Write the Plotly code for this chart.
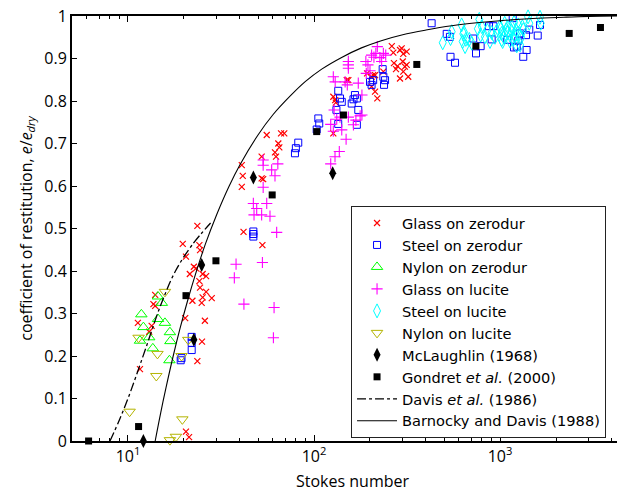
import plotly.graph_objects as go

# ---------------- data ----------------
glass_zerodur_st = [23.6, 19.7, 24.2, 20.5, 24.4, 22.6, 23.2, 21.5, 25.2, 26.3, 24.2, 24.4, 26.3, 25.2, 28.2,
                    24.9, 22.2, 14.0, 13.7, 14.0, 20.3, 25.9, 11.3, 13.4, 13.0, 25.0, 23.6, 11.6, 20.5, 21.3,
                    55.7, 66.5, 69.2, 64.3, 65.1, 61.7, 62.5, 52.3, 40.9, 41.4, 40.9, 52.3, 53.3, 41.8, 52.8,
                    127, 130, 127, 153, 193, 204, 219, 213, 262, 267, 290, 296, 302, 315, 269, 281, 300, 308,
                    276, 302, 315, 290, 321, 236, 208, 150, 131, 204, 213]
glass_zerodur_e = [0.506, 0.464, 0.461, 0.434, 0.449, 0.41, 0.406, 0.393, 0.393, 0.388, 0.376, 0.361, 0.351, 0.338, 0.336,
                   0.325, 0.33, 0.344, 0.322, 0.318, 0.289, 0.283, 0.278, 0.271, 0.257, 0.234, 0.188, 0.169, 0.022, 0.009,
                   0.72, 0.724, 0.724, 0.70, 0.691, 0.679, 0.669, 0.669, 0.649, 0.624, 0.598, 0.618, 0.616, 0.492, 0.461,
                   0.81, 0.802, 0.724, 0.849, 0.865, 0.857, 0.806, 0.861, 0.929, 0.914, 0.92, 0.924, 0.911, 0.916, 0.889, 0.882, 0.893, 0.881,
                   0.875, 0.869, 0.885, 0.853, 0.857, 0.869, 0.861, 0.849, 0.796, 0.834, 0.822]

steel_zerodur_st = [22.0, 22.0, 22.0, 19.2, 19.4, 47.2, 47.2, 47.2, 79.0, 79.9, 82.3, 103.4, 105.5, 106.7,
                    135, 138, 141, 132, 159.5, 163, 166, 170, 173, 135, 170, 200, 204, 208, 234, 236, 241, 238,
                    429, 517, 538, 542, 573, 718, 787, 743, 873, 921, 902, 1094, 1170, 1230, 1189, 1254, 1282,
                    1380, 1390, 1334, 1437, 1595, 1641]
steel_zerodur_e = [0.245, 0.231, 0.214, 0.19, 0.195, 0.493, 0.481, 0.487, 0.677, 0.689, 0.702, 0.733, 0.759, 0.747,
                   0.824, 0.806, 0.798, 0.779, 0.794, 0.804, 0.814, 0.806, 0.779, 0.746, 0.744, 0.845, 0.838, 0.849, 0.875, 0.857, 0.849, 0.838,
                   0.983, 0.958, 0.951, 0.904, 0.89, 0.947, 0.929, 0.912, 0.976, 0.976, 0.945, 0.944, 0.995, 0.928, 0.926, 0.942, 0.959,
                   0.955, 0.92, 0.904, 0.968, 0.954, 0.979]

nylon_zerodur_st = [11.8, 12.1, 11.6, 13.0, 13.6, 14.5, 15.2, 14.5, 15.8, 16.8, 16.9, 16.7]
nylon_zerodur_e = [0.298, 0.268, 0.236, 0.244, 0.218, 0.340, 0.325, 0.287, 0.278, 0.256, 0.235, 0.190]

glass_lucite_st = [38.1, 37.3, 42.0, 61.0, 60.5, 52.8, 47.2, 49.2, 55.7, 52.3, 58.0, 47.6, 63.0, 53.3, 61.7, 59.2,
                   53.3, 53.3, 63.9, 123, 129.7, 136.8, 148.8, 123, 127, 141, 132.5, 138, 128.3, 153, 163, 177,
                   181, 173, 151, 147, 130, 127, 153, 153, 153, 190, 195, 204, 210, 215, 219, 226, 236, 243, 231,
                   191, 200, 181, 168]
glass_lucite_e = [0.416, 0.384, 0.322, 0.314, 0.243, 0.42, 0.559, 0.547, 0.559, 0.532, 0.529, 0.532, 0.491, 0.597, 0.624, 0.638,
                  0.661, 0.649, 0.652, 0.652, 0.669, 0.681, 0.71, 0.745, 0.729, 0.732, 0.757, 0.762, 0.779, 0.762, 0.744, 0.765,
                  0.814, 0.842, 0.838, 0.845, 0.845, 0.857, 0.893, 0.885, 0.877, 0.893, 0.885, 0.908, 0.903, 0.912, 0.928, 0.902, 0.912, 0.908, 0.893,
                  0.865, 0.871, 0.767, 0.755]

steel_lucite_st = [492, 550, 542, 622, 635, 630, 649, 684, 705, 774, 798, 787, 830, 855, 883, 902, 1000, 1021, 1033,
                   1060, 1082, 1132, 1156, 1180, 1220, 1254, 1282, 1334, 1415, 1437, 1641, 1655,
                   1010, 1050, 1100, 1150, 1200, 1250, 1300, 1100, 960, 1190, 1320, 940, 1021, 1132, 1230, 655, 640, 760]
steel_lucite_e = [0.937, 0.963, 0.947, 0.979, 0.958, 0.94, 0.928, 0.945, 0.936, 0.992, 0.975, 0.955, 0.951, 0.966, 0.94, 0.961, 0.975, 0.959, 0.94,
                  0.983, 0.967, 0.955, 0.975, 0.945, 0.967, 0.979, 0.932, 0.968, 0.998, 0.983, 0.997, 0.983,
                  0.97, 0.95, 0.96, 0.965, 0.955, 0.96, 0.95, 0.975, 0.965, 0.985, 0.975, 0.95, 0.944, 0.941, 0.93, 0.945, 0.962, 0.97]

nylon_lucite_st = [15.8, 11.4, 14.4, 14.2, 10.2, 19.6, 18.1, 16.8, 19.4, 21.1]
nylon_lucite_e = [0.351, 0.243, 0.205, 0.153, 0.069, 0.051, 0.010, 0.002, 0.200, 0.238]

mclaughlin_st = [12.1, 22.6, 24.9, 47.2, 126]
mclaughlin_e = [0.0, 0.238, 0.414, 0.62, 0.63]

gondret_st = [6.14, 11.4, 20.5, 29.7, 59.6, 103.4, 144, 357, 742, 2355, 3468]
gondret_e = [0.0, 0.034, 0.342, 0.424, 0.579, 0.728, 0.767, 0.886, 0.929, 0.959, 0.973]

davis_st = [8.0, 9.0, 10.0, 11.0, 12.5, 15.0, 18.0, 22.0, 27.8]
davis_e = [0.0, 0.05, 0.10, 0.15, 0.22, 0.32, 0.40, 0.46, 0.513]

barnocky_st = [14, 15, 16, 17.5, 19, 21, 23, 26, 30, 35, 40, 50, 60, 75, 90, 110, 140, 180, 230, 300, 400,
               550, 750, 1000, 1500, 2200, 3000, 4300]
barnocky_e = [0.0, 0.067, 0.125, 0.2, 0.263, 0.333, 0.391, 0.462, 0.533, 0.6, 0.65, 0.72, 0.767, 0.813, 0.846,
              0.875, 0.902, 0.925, 0.942, 0.956, 0.967, 0.977, 0.984, 0.989, 0.994, 0.997, 0.999, 1.0]

x_tickvals = [10, 100, 1000]
x_ticktext = ["10<sup>1</sup>", "10<sup>2</sup>", "10<sup>3</sup>"]
x_minor = [6, 7, 8, 9, 20, 30, 40, 50, 60, 70, 80, 90, 200, 300, 400, 500, 600, 700, 800, 900, 2000, 3000, 4000]

FONT = "Open Sans"
LEGEND_FONT = "DejaVu Sans"

fig = go.Figure()


def add(x, y, name, symbol, size, color, lw=1.0, filled=False):
    fig.add_trace(go.Scatter(
        x=x, y=y, mode="markers", name=name, cliponaxis=False,
        marker=dict(symbol=symbol, size=size, color=color,
                    line=dict(color=color, width=lw if not filled else 0)),
    ))


add(glass_zerodur_st, glass_zerodur_e, "Glass on zerodur", "x-thin-open", 6, "#ff0000", 1.2)
add(steel_zerodur_st, steel_zerodur_e, "Steel on zerodur", "square-open", 7, "#0000ff", 1.0)
add(nylon_zerodur_st, nylon_zerodur_e, "Nylon on zerodur", "triangle-up-open", 10, "#00ff00", 1.0)
add(glass_lucite_st, glass_lucite_e, "Glass on lucite", "cross-thin-open", 8, "#ff00ff", 1.1)
add(steel_lucite_st, steel_lucite_e, "Steel on lucite", "diamond-tall-open", 10, "#00ffff", 1.0)
add(nylon_lucite_st, nylon_lucite_e, "Nylon on lucite", "triangle-down-open", 10, "#b4b400", 1.0)
add(mclaughlin_st, mclaughlin_e, "McLaughlin (1968)", "diamond-tall", 10, "#000000", filled=True)
add(gondret_st, gondret_e, "Gondret <i>et al.</i> (2000)", "square", 7, "#000000", filled=True)

fig.add_trace(go.Scatter(x=davis_st, y=davis_e, mode="lines", name="Davis <i>et al.</i> (1986)",
                         line=dict(color="black", width=1.3, dash="dashdot", shape="spline")))
fig.add_trace(go.Scatter(x=barnocky_st, y=barnocky_e, mode="lines", name="Barnocky and Davis (1988)",
                         line=dict(color="black", width=1.1, shape="spline")))

fig.update_layout(
    width=617, height=491,
    margin=dict(l=72, r=0, t=16, b=50),
    paper_bgcolor="white", plot_bgcolor="white",
    font=dict(family=FONT, size=16, color="black"),
    showlegend=True,
    legend=dict(x=0.512, y=0.553, xanchor="left", yanchor="top",
                bgcolor="white", bordercolor="#222222", borderwidth=1,
                itemwidth=40, tracegroupgap=0,
                font=dict(family=LEGEND_FONT, size=14.6, color="black")),
    xaxis=dict(type="log", range=[0.69897, 3.629], showline=True, linecolor="black", linewidth=2,
               mirror="allticks", ticks="inside", ticklen=6, tickwidth=1, tickcolor="black",
               tickvals=x_tickvals, ticktext=x_ticktext, showgrid=False, zeroline=False,
               minor=dict(tickvals=x_minor, ticks="inside", ticklen=3, tickcolor="black", showgrid=False),
               tickfont=dict(size=16)),
    yaxis=dict(range=[0, 1], dtick=0.1, showline=True, linecolor="black", linewidth=2,
               ticks="inside", ticklen=5, tickwidth=1, tickcolor="black", showgrid=False, zeroline=False,
               title=dict(text="coefficient of restitution, <i>e</i>/<i>e</i><sub><i>dry</i></sub>",
                          font=dict(size=16), standoff=8),
               tickfont=dict(size=16)),
    annotations=[dict(text="Stokes number", xref="paper", yref="paper", x=0.5138, y=-0.094,
                      xanchor="center", yanchor="middle", showarrow=False, font=dict(size=16))],
)

fig.write_html("out.html")
